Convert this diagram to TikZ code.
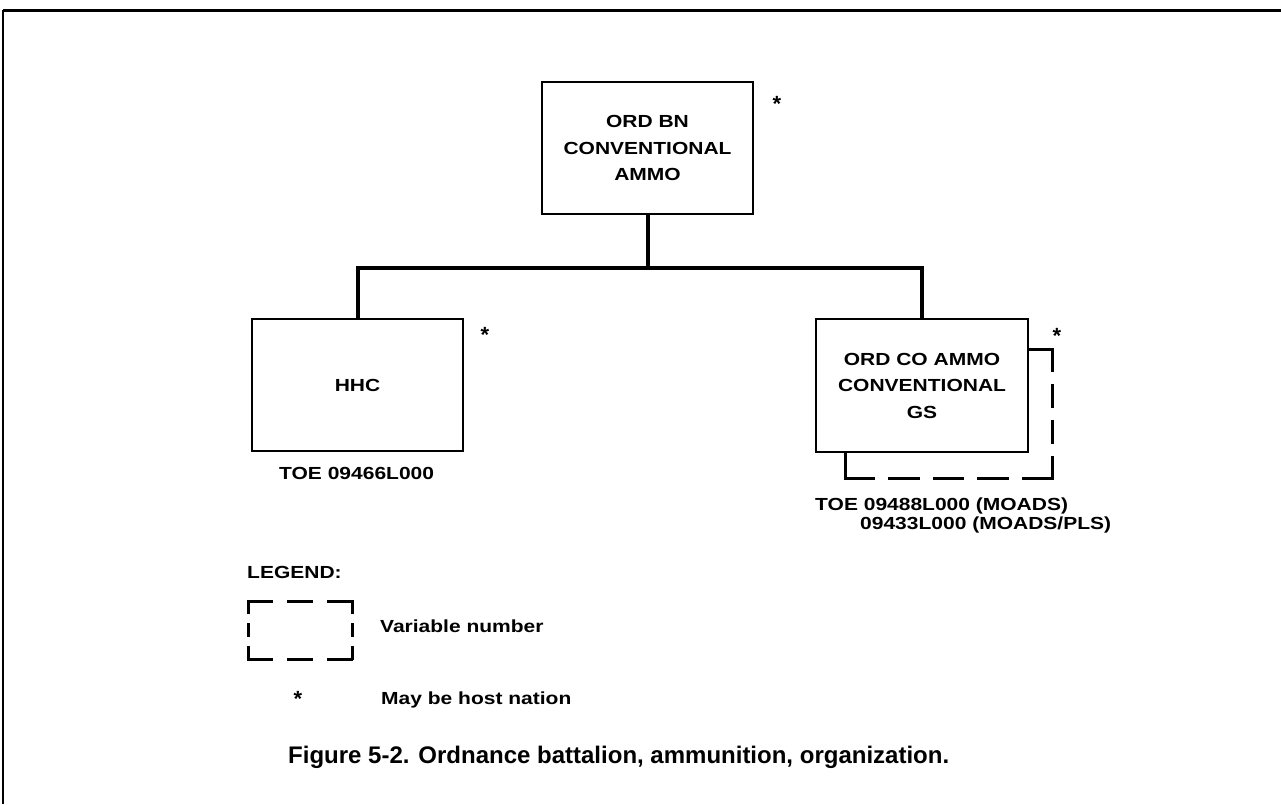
\documentclass[tikz,border=0pt]{standalone}
\usepackage{fontspec}
\setmainfont{Liberation Sans}
\newfontfamily\lblfont[FakeStretch=1.2]{Liberation Sans}
\begin{document}
\begin{tikzpicture}[x=1pt,y=-1pt,
  unit/.style={draw, line width=2.4pt, minimum width=211pt, minimum height=132pt,
    inner sep=0pt, align=center,
    font=\lblfont\bfseries\fontsize{17.5}{26.5}\selectfont},
  link/.style={line width=4pt},
  lbl/.style={inner sep=0pt, anchor=base west,
    font=\lblfont\bfseries\fontsize{17.5}{20}\selectfont},
  hostmark/.style={inner sep=0pt, anchor=base,
    font=\bfseries\fontsize{22}{22}\selectfont},
  varline/.style={line width=3pt, line cap=rect},
  capt/.style={inner sep=0pt, anchor=base west,
    font=\bfseries\fontsize{24}{28}\selectfont}
]
\useasboundingbox (0,0) rectangle (1281,804);
\fill[white] (0,0) rectangle (1281,804);

% page frame
\draw[line width=3pt] (3,10) -- (1281,10);
\draw[line width=1.5pt] (3,10) -- (3,804);

% units
\node[unit] (bn) at (647.5,148) {ORD BN\\CONVENTIONAL\\AMMO};
\node[unit] (hhc) at (357.5,385) {HHC};
\node[unit, minimum width=212pt, minimum height=133pt] (co) at (922,385.5)
  {ORD CO AMMO\\CONVENTIONAL\\GS};

% host nation marks
\node[hostmark] (s1) at (777,111) {*};
\node[hostmark] (s2) at (485,342) {*};
\node[hostmark] (s3) at (1057,343) {*};

% command lines
\coordinate (bar) at (647.5,268);
\draw[link] (bn.south) -- (bar);
\draw[link] (hhc.north) |- (bar) -| (co.north);

% variable number bracket
\coordinate (brTR) at (1052,349);
\coordinate (brBR) at (1052,478);
\coordinate (brBL) at (845,478);
\draw[varline] (co.east |- brTR) -- (brTR);
\draw[varline, dash pattern=on 21pt off 15pt] (brTR) -- (brBR);
\draw[varline, dash pattern=on 28.6pt off 16pt] (brBR) -- (brBL);
\draw[varline] (brBL) -- (co.south -| brBL);

% TOE labels
\node[lbl] (toe1) at (279,479) {TOE 09466L000};
\node[lbl] (toe2) at (815,510) {TOE 09488L000 (MOADS)};
\node[lbl] (toe3) at (860,529) {09433L000 (MOADS/PLS)};

% legend
\node[lbl] (legend) at (247,578) {LEGEND:};
\node[inner sep=0pt, minimum width=103pt, minimum height=57pt] (legbox) at (300.5,630.5) {};
\draw[varline, dash pattern=on 23pt off 17pt] (legbox.north west) -- (legbox.north east);
\draw[varline, dash pattern=on 23pt off 17pt] (legbox.south west) -- (legbox.south east);
\draw[varline, dash pattern=on 11pt off 12pt] (legbox.north west) -- (legbox.south west);
\draw[varline, dash pattern=on 11pt off 12pt] (legbox.north east) -- (legbox.south east);
\node[lbl] (vartext) at (380,632) {Variable number};
\node[hostmark] (s4) at (298,706) {*};
\node[lbl] (hosttext) at (381,704) {May be host nation};

% caption
\node[capt] (caption) at (288,763) {Figure 5-2. Ordnance battalion, ammunition, organization.};
\end{tikzpicture}
\end{document}
